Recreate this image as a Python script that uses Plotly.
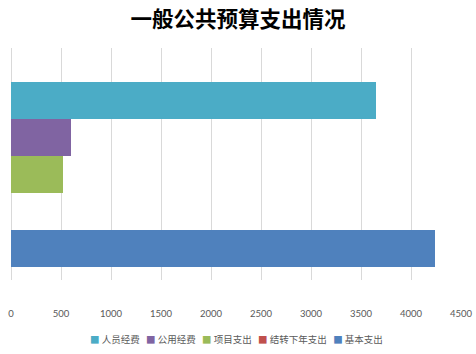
import plotly.graph_objects as go

title = "一般公共预算支出情况"
category = ["一般公共预算支出"]
series_names = ["人员经费", "公用经费", "项目支出", "结转下年支出", "基本支出"]
series_values = [3650, 600, 515, 0, 4235]
series_colors = ["#4BACC6", "#8064A2", "#9BBB59", "#C0504D", "#4F81BD"]
x_ticks = [0, 500, 1000, 1500, 2000, 2500, 3000, 3500, 4000, 4500]

fig = go.Figure()
for name, val, col in zip(series_names, series_values, series_colors):
    fig.add_trace(go.Bar(
        y=category, x=[val], name=name, orientation="h",
        marker=dict(color=col, line=dict(width=0)),
        showlegend=False,
    ))

legend_text = "&nbsp;&nbsp;&nbsp;".join(
    f"<span style='color:{c}'>■</span>&nbsp;{n}" for n, c in zip(series_names, series_colors)
)

fig.update_layout(
    width=476, height=354,
    margin=dict(l=11, r=15, t=48, b=74),
    paper_bgcolor="white", plot_bgcolor="white",
    barmode="group", bargap=0, bargroupgap=0,
    title=dict(text=f"<b>{title}</b>", x=0.5, xanchor="center", y=0.945, yanchor="middle",
               font=dict(family="Noto Sans CJK SC", size=21.5, color="#000000")),
    xaxis=dict(range=[0, 4500], tickvals=x_ticks, ticktext=[str(v) for v in x_ticks],
               showgrid=True, gridcolor="#D9D9D9", gridwidth=1,
               zeroline=True, zerolinecolor="#D9D9D9", zerolinewidth=1,
               showline=False, ticks="", ticklabelstandoff=26, automargin=False,
               tickfont=dict(family="Lato", size=9.5, color="#595959")),
    yaxis=dict(type="category", range=[0.5703, -0.6838], showticklabels=False,
               showgrid=False, zeroline=False, showline=False, automargin=False),
    annotations=[dict(text=legend_text, xref="paper", yref="paper", x=0.502, y=-0.255,
                      xanchor="center", yanchor="middle", showarrow=False,
                      font=dict(family="Noto Sans CJK SC", size=9.5, color="#595959"))],
)

fig.write_html("out.html")
